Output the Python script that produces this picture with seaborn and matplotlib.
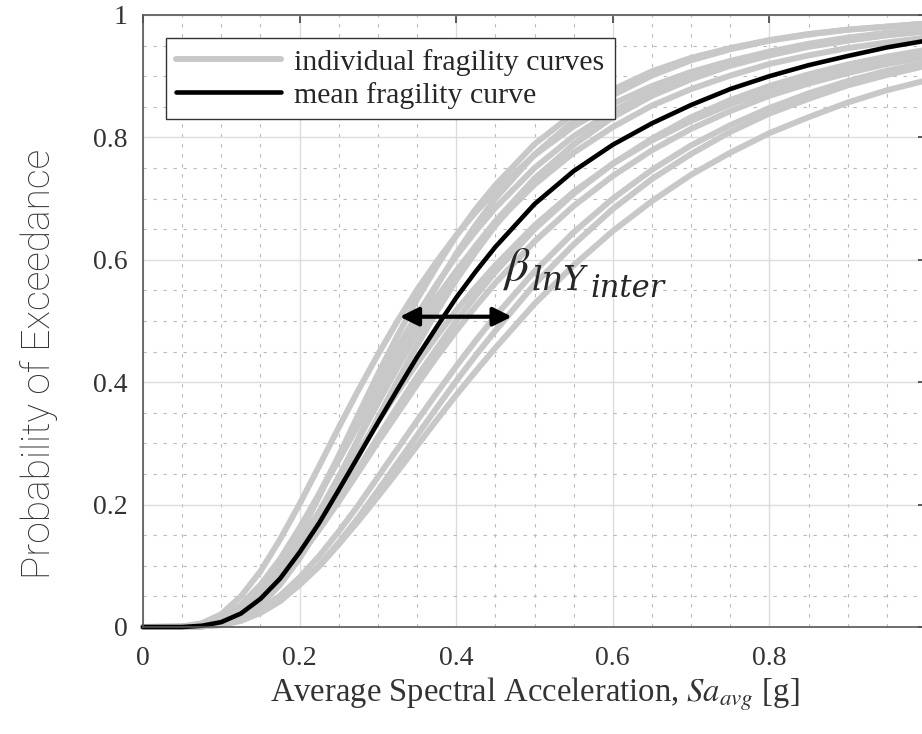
import pandas as pd
import matplotlib
matplotlib.use("Agg")
import matplotlib.pyplot as plt
from matplotlib.lines import Line2D
from matplotlib.ticker import MultipleLocator, FuncFormatter
import seaborn as sns

# Sa_avg grid [g] and exceedance probabilities
sa = [0.000, 0.050, 0.075, 0.100, 0.125, 0.150, 0.175, 0.200, 0.225, 0.250,
      0.275, 0.300, 0.325, 0.350, 0.375, 0.400, 0.425, 0.450, 0.500, 0.550,
      0.600, 0.650, 0.700, 0.750, 0.800, 0.850, 0.900, 0.950, 1.000]

mean_curve = [0, 0.000, 0.002, 0.008, 0.022, 0.046, 0.079, 0.122, 0.170, 0.224,
              0.279, 0.334, 0.388, 0.441, 0.490, 0.538, 0.581, 0.621, 0.691, 0.745,
              0.788, 0.823, 0.853, 0.879, 0.900, 0.918, 0.933, 0.947, 0.958]

individual_curves = {
    "g01": [0, 0.001, 0.006, 0.021, 0.050, 0.091, 0.143, 0.201, 0.263, 0.326,
            0.387, 0.445, 0.500, 0.551, 0.597, 0.640, 0.678, 0.712, 0.771, 0.818,
            0.855, 0.884, 0.907, 0.925, 0.940, 0.951, 0.961, 0.968, 0.974],
    "g02": [0, 0.000, 0.001, 0.008, 0.024, 0.054, 0.097, 0.151, 0.213, 0.280,
            0.347, 0.413, 0.476, 0.535, 0.589, 0.639, 0.683, 0.722, 0.789, 0.839,
            0.878, 0.908, 0.930, 0.946, 0.959, 0.969, 0.976, 0.981, 0.986],
    "g03": [0, 0.000, 0.003, 0.012, 0.033, 0.065, 0.108, 0.161, 0.218, 0.279,
            0.340, 0.399, 0.457, 0.510, 0.560, 0.606, 0.647, 0.685, 0.750, 0.802,
            0.843, 0.875, 0.901, 0.921, 0.937, 0.949, 0.959, 0.967, 0.974],
    "g04": [0, 0.000, 0.001, 0.005, 0.016, 0.039, 0.074, 0.122, 0.179, 0.242,
            0.308, 0.374, 0.439, 0.500, 0.557, 0.610, 0.657, 0.700, 0.772, 0.827,
            0.869, 0.901, 0.926, 0.944, 0.958, 0.968, 0.976, 0.981, 0.986],
    "g05": [0, 0.000, 0.002, 0.008, 0.023, 0.049, 0.087, 0.134, 0.188, 0.246,
            0.306, 0.366, 0.424, 0.479, 0.531, 0.579, 0.623, 0.663, 0.733, 0.788,
            0.833, 0.868, 0.895, 0.917, 0.934, 0.948, 0.958, 0.967, 0.973],
    "g06": [0, 0.000, 0.001, 0.005, 0.015, 0.036, 0.069, 0.112, 0.163, 0.220,
            0.280, 0.342, 0.402, 0.460, 0.515, 0.567, 0.613, 0.656, 0.730, 0.789,
            0.836, 0.872, 0.901, 0.923, 0.940, 0.953, 0.963, 0.971, 0.977],
    "g07": [0, 0.001, 0.004, 0.014, 0.033, 0.062, 0.098, 0.141, 0.188, 0.237,
            0.287, 0.336, 0.384, 0.431, 0.475, 0.517, 0.555, 0.591, 0.656, 0.711,
            0.757, 0.795, 0.827, 0.854, 0.877, 0.895, 0.911, 0.925, 0.936],
    "g08": [0, 0.000, 0.002, 0.008, 0.022, 0.045, 0.077, 0.116, 0.160, 0.209,
            0.259, 0.310, 0.360, 0.409, 0.455, 0.500, 0.541, 0.580, 0.650, 0.708,
            0.757, 0.798, 0.833, 0.861, 0.884, 0.903, 0.919, 0.932, 0.943],
    "g09": [0, 0.000, 0.002, 0.009, 0.024, 0.047, 0.078, 0.116, 0.159, 0.205,
            0.253, 0.302, 0.349, 0.396, 0.441, 0.484, 0.524, 0.562, 0.630, 0.688,
            0.737, 0.779, 0.814, 0.843, 0.868, 0.888, 0.905, 0.920, 0.931],
    "g10": [0, 0.000, 0.001, 0.004, 0.013, 0.028, 0.051, 0.081, 0.116, 0.156,
            0.199, 0.245, 0.291, 0.337, 0.382, 0.426, 0.468, 0.508, 0.581, 0.645,
            0.700, 0.747, 0.787, 0.820, 0.848, 0.872, 0.892, 0.909, 0.922],
    "g11": [0, 0.000, 0.001, 0.003, 0.010, 0.023, 0.042, 0.069, 0.101, 0.138,
            0.179, 0.223, 0.268, 0.313, 0.358, 0.402, 0.444, 0.484, 0.560, 0.625,
            0.683, 0.732, 0.773, 0.809, 0.839, 0.863, 0.885, 0.902, 0.917],
    "g12": [0, 0.000, 0.001, 0.004, 0.011, 0.024, 0.044, 0.069, 0.099, 0.135,
            0.173, 0.213, 0.254, 0.296, 0.338, 0.379, 0.418, 0.456, 0.528, 0.591,
            0.647, 0.696, 0.739, 0.775, 0.807, 0.833, 0.857, 0.877, 0.893],
    "g13": [0, 0.000, 0.004, 0.014, 0.036, 0.069, 0.111, 0.162, 0.216, 0.273,
            0.330, 0.386, 0.440, 0.490, 0.538, 0.582, 0.622, 0.659, 0.723, 0.775,
            0.817, 0.852, 0.879, 0.901, 0.920, 0.934, 0.946, 0.955, 0.963],
}

legend_labels = ["individual fragility curves", "mean fragility curve"]
arrow_y = 0.507
arrow_x = (0.328, 0.471)

GREY = "#c8c8c8"

sns.set_style("whitegrid")
plt.rcParams["font.family"] = ["Liberation Serif", "DejaVu Serif"]
plt.rcParams["mathtext.fontset"] = "stix"

long_df = pd.concat(
    [pd.DataFrame({"Sa": sa, "P": vals, "curve": name}) for name, vals in individual_curves.items()],
    ignore_index=True,
)
mean_df = pd.DataFrame({"Sa": sa, "P": mean_curve})

fig = plt.figure(figsize=(9.22, 7.34), dpi=100)
ax = fig.add_axes([143 / 922, 107 / 734, 783 / 922, 612 / 734])

sns.lineplot(data=long_df, x="Sa", y="P", units="curve", estimator=None,
             color=GREY, linewidth=4.3, ax=ax, legend=False, clip_on=False)
sns.lineplot(data=mean_df, x="Sa", y="P", color="black", linewidth=3.3,
             ax=ax, legend=False, clip_on=False)

ax.set_xlim(0, 1)
ax.set_ylim(0, 1)
ax.xaxis.set_major_locator(MultipleLocator(0.2))
ax.yaxis.set_major_locator(MultipleLocator(0.2))
ax.xaxis.set_minor_locator(MultipleLocator(0.05))
ax.yaxis.set_minor_locator(MultipleLocator(0.05))
# the x label at 1 sits past the cropped right edge
ax.xaxis.set_major_formatter(FuncFormatter(lambda v, p: "" if v > 0.99 else f"{v:g}"))
ax.yaxis.set_major_formatter(FuncFormatter(lambda v, p: f"{v:g}"))

ax.grid(which="major", color="#dcdcdc", linewidth=1.0, linestyle="-")
ax.grid(which="minor", color="#b9b9b9", linewidth=0.8, linestyle=(0, (3, 6)))
ax.set_axisbelow(True)

ax.tick_params(which="major", direction="in", length=6, width=1.2, color="#404040",
               top=True, right=True, labelsize=20, labelcolor="#333333")
ax.tick_params(axis="x", pad=14)
ax.tick_params(axis="y", pad=11)
ax.tick_params(which="minor", length=0)
for sp in ax.spines.values():
    sp.set_color("#555555")
    sp.set_linewidth(1.2)

ax.set_xlabel(r"Average Spectral Acceleration, $\mathit{Sa}_{\mathit{avg}}$ [g]",
              fontsize=23.5, color="#333333", labelpad=3)
ax.set_ylabel("Probability of Exceedance", fontsize=28, color="#333333",
              family=["Roboto", "DejaVu Sans"], fontweight="light")
ax.yaxis.set_label_coords(-0.108, 0.43)

handles = [Line2D([], [], color=GREY, linewidth=4.3), Line2D([], [], color="black", linewidth=3.3)]
leg = ax.legend(handles, legend_labels, loc="upper left", bbox_to_anchor=(0.029, 0.962),
                borderaxespad=0, frameon=True, fancybox=False, framealpha=1,
                edgecolor="#333333", fontsize=21.5, handlelength=3.5, handletextpad=0.45,
                labelspacing=0.2, borderpad=0.35)
leg.get_frame().set_linewidth(1.0)

ax.annotate("", xy=(arrow_x[0], arrow_y), xytext=(arrow_x[1], arrow_y),
            arrowprops=dict(arrowstyle="<|-|>", color="black", lw=3, mutation_scale=28,
                            shrinkA=0, shrinkB=0))

# beta_lnY_inter, built from pieces so the subscripts keep their large size
anchor = (0.4598, 0.567)
ax.annotate(r"$\beta$", xy=anchor, xytext=(0, 0), textcoords="offset points",
            fontsize=34, va="baseline", ha="left")
ax.annotate("lnY", xy=anchor, xytext=(20.9, -7.2), textcoords="offset points",
            fontsize=24, va="baseline", ha="left", style="italic", family="DejaVu Serif")
ax.annotate("inter", xy=anchor, xytext=(62.6, -12.2), textcoords="offset points",
            fontsize=22, va="baseline", ha="left", style="italic", family="DejaVu Serif")

fig.savefig("out.png", dpi=100)
